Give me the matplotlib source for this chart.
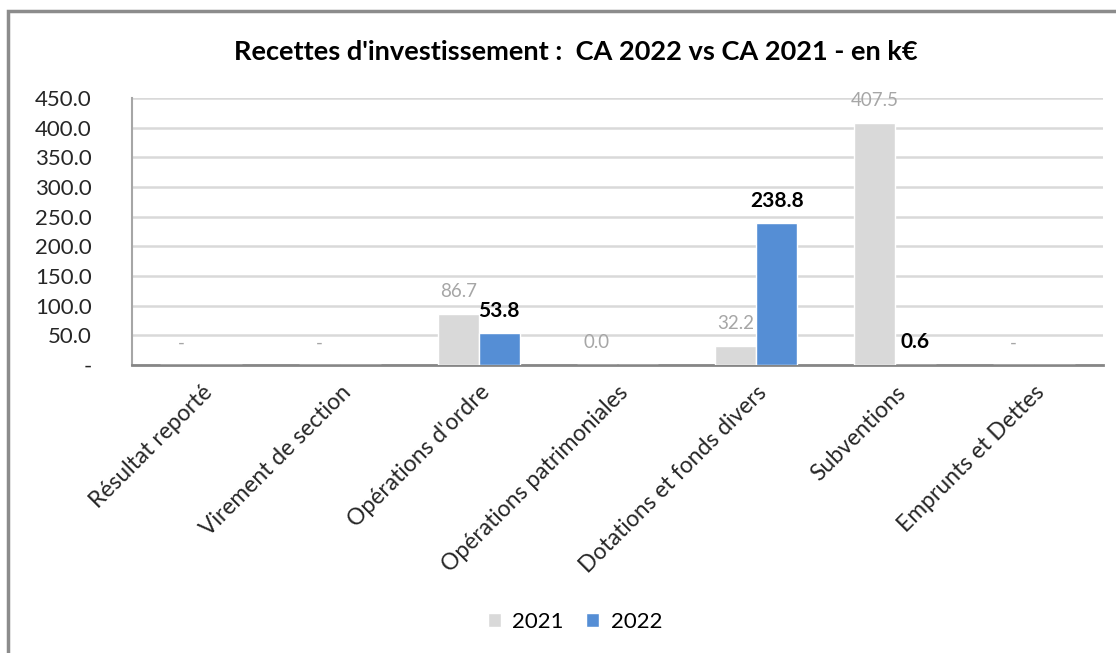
import matplotlib
matplotlib.use('Agg')
import matplotlib.pyplot as plt
import numpy as np
from matplotlib.patches import Rectangle
from matplotlib.ticker import FuncFormatter

categories = ['Résultat reporté', 'Virement de section', "Opérations d'ordre",
              'Opérations patrimoniales', 'Dotations et fonds divers',
              'Subventions', 'Emprunts et Dettes']
ca_2021 = [0.0, 0.0, 86.7, 0.02, 32.2, 407.5, 0.0]
ca_2022 = [0.0, 0.0, 53.8, 0.0, 238.8, 0.6, 0.0]
series_names = ['2021', '2022']
yticks = [0, 50, 100, 150, 200, 250, 300, 350, 400, 450]

plt.rcParams['font.family'] = ['Lato', 'DejaVu Sans']

W, H = 1116, 653
fig = plt.figure(figsize=(W / 100, H / 100), dpi=100)
ax = fig.add_axes([132 / W, 1 - 365 / H, (1103 - 132) / W, (365 - 98) / H])

x = np.arange(len(categories))
bw = 0.295
c21 = '#d9d9d9'
c22 = '#558ed5'
b1 = ax.bar(x - bw / 2, ca_2021, bw, color=c21, edgecolor='white', linewidth=1, label=series_names[0], zorder=3)
b2 = ax.bar(x + bw / 2, ca_2022, bw, color=c22, edgecolor='white', linewidth=1, label=series_names[1], zorder=3)

for xi, v in zip(x, ca_2021):
    txt = '-' if v == 0 else '%.1f' % v
    ax.annotate(txt, (xi - bw / 2, v), xytext=(0, 16), textcoords='offset points',
                ha='center', va='center', fontsize=13.5, color='#a6a6a6', zorder=4)
for xi, v in zip(x, ca_2022):
    if v == 0:
        continue
    ax.annotate('%.1f' % v, (xi + bw / 2, v), xytext=(0, 16), textcoords='offset points',
                ha='center', va='center', fontsize=15, fontweight='bold', color='black', zorder=4)

ax.set_xlim(-0.5, len(categories) - 0.5)
ax.set_ylim(0, 450)
ax.set_yticks(yticks)
ax.yaxis.set_major_formatter(FuncFormatter(lambda v, p: '-' if v == 0 else '%.1f' % v))
ax.grid(axis='y', color='#d9d9d9', linewidth=1.8, zorder=0)
ax.set_xticks(x)
ax.set_xticklabels(categories, rotation=45, ha='right', rotation_mode='anchor', fontsize=16.5)
ax.tick_params(axis='both', length=0, colors='#262626')
ax.tick_params(axis='y', labelsize=16, pad=29)
ax.tick_params(axis='x', pad=12)
for s in ['top', 'right']:
    ax.spines[s].set_visible(False)
ax.spines['left'].set_color('#a6a6a6')
ax.spines['left'].set_linewidth(1.5)
ax.spines['bottom'].set_color('#868686')
ax.spines['bottom'].set_linewidth(2)

fig.text(576 / W, 1 - 52 / H, "Recettes d'investissement :  CA 2022 vs CA 2021 - en k€",
         ha='center', va='center', fontsize=19.5, fontweight='bold', color='black')

fig.legend(handles=[b1, b2], labels=series_names, loc='center', bbox_to_anchor=(575 / W, 1 - 622 / H),
           ncol=2, frameon=False, fontsize=16, handlelength=0.6, handleheight=0.6,
           handletextpad=0.5, columnspacing=1.0)

fig.patches.append(Rectangle((8 / W, -0.1), 1.2, 1 - 11 / H + 0.1, transform=fig.transFigure,
                             fill=False, edgecolor='#8c8c8c', linewidth=2.5))

fig.savefig('out.png', dpi=100, facecolor='white')
